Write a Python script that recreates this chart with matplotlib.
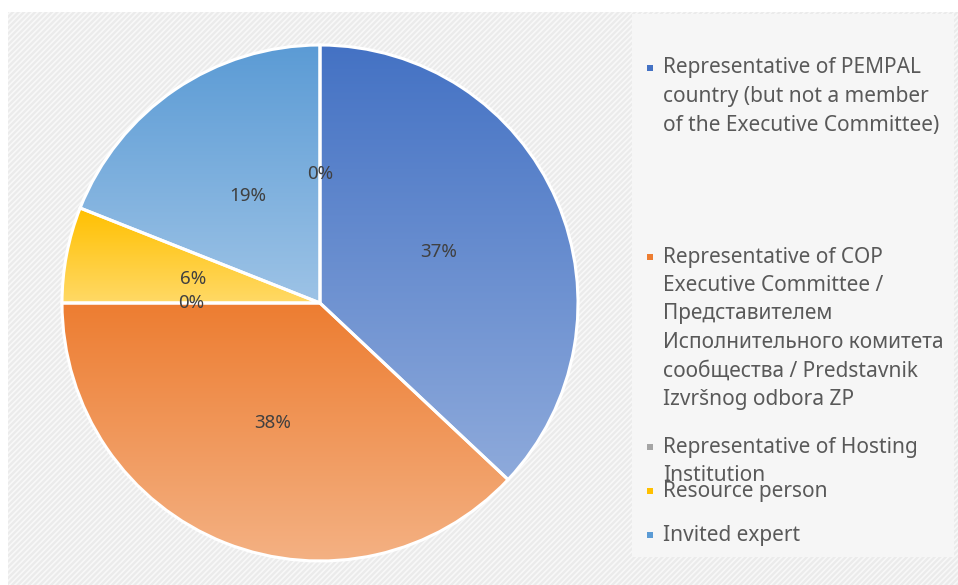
import numpy as np
import matplotlib
matplotlib.use("Agg")
import matplotlib.pyplot as plt
from matplotlib.patches import Rectangle
from matplotlib.colors import to_rgb

categories = [
    "Representative of PEMPAL\ncountry (but not a member\nof the Executive Committee)",
    "Representative of COP\nExecutive Committee /\nПредставителем\nИсполнительного комитета\nсообщества / Predstavnik\nIzvršnog odbora ZP",
    "Representative of Hosting\nInstitution",
    "Resource person",
    "Invited expert",
    "",
]
values = [37, 38, 0, 6, 19, 0]
pct_labels = ["37%", "38%", "0%", "6%", "19%", "0%"]
top_colors = ["#4472c4", "#ed7d31", "#a5a5a5", "#ffc000", "#5b9bd5", "#4472c4"]
bottom_colors = ["#8eaadb", "#f4b183", "#c9c9c9", "#ffd966", "#9dc3e6", "#8eaadb"]
legend_colors = ["#4472c4", "#ed7d31", "#a5a5a5", "#ffc000", "#5b9bd5"]

plt.rcParams['font.family'] = ['Noto Sans', 'DejaVu Sans']
plt.rcParams['hatch.linewidth'] = 1.2

W, H = 958, 585
fig = plt.figure(figsize=(W / 100, H / 100), dpi=100)

# background overlay axes in pixel coords
bg = fig.add_axes([0, 0, 1, 1])
bg.set_xlim(0, W)
bg.set_ylim(H, 0)
bg.axis('off')
bg.add_patch(Rectangle((8, 12), W - 8, H - 12, facecolor='#ebebeb', edgecolor='#f8f8f8',
                       hatch='//////', lw=0, zorder=0))
bg.add_patch(Rectangle((632, 14), 322, 543, facecolor='#f6f6f6', edgecolor='none', zorder=1))

# pie axes
cx, cy, r = 320, 303, 258
pad = 1.03
ra = r * pad
ax = fig.add_axes([(cx - ra) / W, (H - cy - ra) / H, 2 * ra / W, 2 * ra / H])
ax.set_zorder(2)
wedges, _ = ax.pie(values, startangle=90, counterclock=False, radius=1,
                   wedgeprops=dict(linewidth=2.2, edgecolor='white'))
ax.axis('off')

for w, c1, c2 in zip(wedges, top_colors, bottom_colors):
    t1, t2 = w.theta1, w.theta2
    if t2 - t1 <= 0:
        w.set_visible(False)
        continue
    th = np.radians(np.linspace(t1, t2, 200))
    ys = np.concatenate([[0], np.sin(th)])
    ymin, ymax = ys.min(), ys.max()
    n = 256
    g = np.linspace(0, 1, n)[:, None]
    a, b = np.array(to_rgb(c1)), np.array(to_rgb(c2))
    img = (a[None, None, :] * (1 - g[:, :, None]) + b[None, None, :] * g[:, :, None])
    img = np.repeat(img, 2, axis=1)
    im = ax.imshow(img, extent=(-1, 1, ymin, ymax), origin='upper', aspect='auto', zorder=1)
    im.set_clip_path(w)
    w.set_facecolor('none')
    w.set_zorder(3)

ax.set_xlim(-pad, pad)
ax.set_ylim(-pad, pad)

for w, lab in zip(wedges, pct_labels):
    mid = np.radians((w.theta1 + w.theta2) / 2)
    rr = 0.5
    ax.text(rr * np.cos(mid), rr * np.sin(mid), lab, ha='center', va='center',
            fontsize=13.5, color='#404040', zorder=5)

# legend (manual)
first_line_y = [68, 257, 447, 491, 535]
line_h = 28.5
for lab, col, y0 in zip(categories[:5], legend_colors, first_line_y):
    bg.add_patch(Rectangle((647, y0 - 3), 6, 6, facecolor=col, edgecolor='none', zorder=3))
    for i, line in enumerate(lab.split("\n")):
        bg.text(663, y0 + i * line_h, line, ha='left', va='center', fontsize=15,
                color='#595959', zorder=4)

fig.savefig("out.png", dpi=100)
